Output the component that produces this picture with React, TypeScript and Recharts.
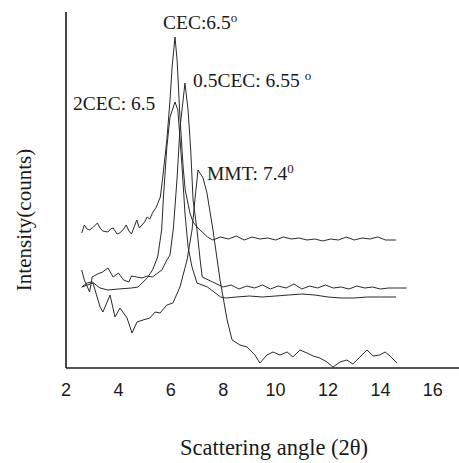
import { LineChart, Line, XAxis, YAxis, Label } from "recharts";

// 2θ positions and intensities (arbitrary counts)
const cecX = [2.6, 2.7, 2.8, 2.9, 3.05, 3.2, 3.3, 3.4, 3.6, 3.7, 3.8, 3.95, 4.05, 4.2, 4.3, 4.4, 4.5, 4.6, 4.7, 4.8, 4.9, 5.0, 5.1, 5.2, 5.3, 5.45, 5.6, 5.68, 5.85, 5.97, 6.05, 6.16, 6.24, 6.35, 6.47, 6.55, 6.73, 6.85, 7.0, 7.2, 7.4, 7.6, 7.9, 8.2, 8.5, 8.8, 9.1, 9.4, 9.7, 10.0, 10.3, 10.6, 10.9, 11.2, 11.5, 11.8, 12.1, 12.4, 12.7, 13.0, 13.3, 13.6, 13.9, 14.2, 14.6];
const cecY = [135, 143, 139, 138, 141, 145, 140, 137, 136, 139, 140, 134, 135, 139, 143, 137, 134, 141, 148, 140, 143, 146, 151, 149, 155, 161, 171, 188, 228, 268, 301, 331, 308, 251, 201, 178, 155, 146, 141, 136, 131, 128, 131, 129, 132, 128, 131, 129, 130, 128, 131, 129, 130, 128, 129, 127, 129, 128, 131, 128, 130, 129, 131, 128, 128];

const cec2X = [2.6, 2.8, 3.0, 3.3, 3.6, 4.0, 4.5, 4.75, 5.1, 5.3, 5.5, 5.65, 5.72, 5.85, 5.97, 6.16, 6.27, 6.43, 6.54, 6.66, 6.81, 7.0, 7.4, 7.9, 8.1, 8.5, 9.0, 9.5, 10.0, 10.5, 11.0, 11.5, 12.0, 12.5, 13.0, 13.5, 14.0, 14.6];
const cec2Y = [81, 85, 86, 80, 78, 79, 80, 81, 90, 98, 111, 138, 171, 221, 251, 266, 258, 201, 155, 121, 101, 85, 81, 71, 70, 71, 72, 71, 72, 73, 74, 73, 71, 70, 70, 71, 71, 71];

const halfX = [2.6, 2.7, 2.9, 3.0, 3.2, 3.4, 3.6, 3.8, 4.0, 4.2, 4.4, 4.5, 4.7, 4.9, 5.1, 5.3, 5.5, 5.66, 5.85, 5.97, 6.1, 6.24, 6.35, 6.47, 6.54, 6.66, 6.76, 6.85, 7.0, 7.12, 7.2, 7.6, 8.0, 8.3, 8.6, 8.9, 9.2, 9.5, 9.8, 10.1, 10.4, 10.7, 11.0, 11.3, 11.6, 11.9, 12.2, 12.5, 12.8, 13.1, 13.4, 13.7, 14.0, 14.3, 14.6, 15.0];
const halfY = [98, 88, 76, 91, 94, 96, 100, 91, 95, 88, 86, 92, 91, 90, 92, 91, 95, 98, 108, 113, 140, 190, 240, 268, 285, 258, 218, 168, 138, 108, 91, 86, 81, 83, 79, 82, 80, 83, 79, 82, 80, 84, 79, 82, 80, 83, 80, 81, 79, 82, 80, 81, 79, 80, 80, 80];

const mmtX = [2.61, 3.03, 3.3, 3.41, 3.68, 3.87, 4.06, 4.33, 4.52, 4.71, 4.94, 5.2, 5.4, 5.59, 5.85, 6.08, 6.35, 6.62, 6.81, 6.92, 7.04, 7.23, 7.38, 7.61, 7.88, 8.15, 8.34, 8.64, 8.91, 9.21, 9.4, 9.67, 9.9, 10.17, 10.44, 10.66, 10.93, 11.2, 11.43, 11.69, 11.96, 12.19, 12.46, 12.72, 12.95, 13.22, 13.49, 13.72, 13.98, 14.18, 14.37, 14.63];
const mmtY = [81, 85, 61, 56, 73, 51, 60, 50, 35, 46, 48, 50, 56, 55, 63, 65, 81, 108, 138, 168, 198, 190, 175, 138, 88, 48, 28, 23, 21, 13, 5, 13, 16, 13, 16, 11, 18, 15, 12, 10, 6, 1, 6, 8, 4, 11, 18, 12, 13, 16, 12, 5];

const xTicks = [2, 4, 6, 8, 10, 12, 14, 16];

const toRows = (xs: number[], ys: number[]) => xs.map((x, i) => ({ x, y: ys[i] }));

const serif = "'Liberation Serif', 'DejaVu Serif', serif";
const ink = "#1a1a1a";

export default function App() {
  const series = [
    { name: "CEC", data: toRows(cecX, cecY) },
    { name: "2CEC", data: toRows(cec2X, cec2Y) },
    { name: "0.5CEC", data: toRows(halfX, halfY) },
    { name: "MMT", data: toRows(mmtX, mmtY) },
  ];
  const noteStyle = { fontFamily: serif, fontSize: 19.5, fill: ink };
  return (
    <div style={{ position: "relative", width: 459, height: 463, background: "#fff" }}>
      <style>{"body{margin:0}"}</style>
      <LineChart width={459} height={463} margin={{ top: 12, right: 0, left: 0, bottom: 0 }}>
        <XAxis
          type="number"
          dataKey="x"
          domain={[2, 17]}
          ticks={xTicks}
          allowDuplicatedCategory={false}
          height={95}
          tickLine={false}
          tickMargin={9}
          axisLine={{ stroke: ink, strokeWidth: 1.6 }}
          tick={{ fill: ink, fontSize: 18, fontFamily: "'Liberation Sans', Arial, sans-serif" }}
        >
          <Label
            content={() => (
              <text x={274} y={455} textAnchor="middle" style={{ ...noteStyle, fontSize: 22.5 }}>
                Scattering angle (2θ)
              </text>
            )}
          />
        </XAxis>
        <YAxis
          type="number"
          dataKey="y"
          domain={[0, 356]}
          width={66}
          tick={false}
          tickLine={false}
          axisLine={{ stroke: ink, strokeWidth: 1.6 }}
        >
          <Label
            content={() => (
              <text x={31} y={220} textAnchor="middle" transform="rotate(-90 31 220)" style={{ ...noteStyle, fontSize: 21 }}>
                Intensity(counts)
              </text>
            )}
          />
        </YAxis>
        {series.map((s) => (
          <Line
            key={s.name}
            data={s.data}
            dataKey="y"
            name={s.name}
            type="linear"
            stroke="#2a2a2a"
            strokeWidth={1}
            dot={false}
            isAnimationActive={false}
          />
        ))}
        <text x={163} y={29} style={noteStyle}>
          CEC:6.5<tspan dy={-7} fontSize={13}>o</tspan>
        </text>
        <text x={193} y={87} style={noteStyle}>
          0.5CEC: 6.55<tspan dx={5} dy={-7} fontSize={13}>o</tspan>
        </text>
        <text x={73} y={110} style={noteStyle}>
          2CEC: 6.5
        </text>
        <text x={207} y={180} style={noteStyle}>
          MMT: 7.4<tspan dy={-7} fontSize={13}>0</tspan>
        </text>
      </LineChart>
    </div>
  );
}
